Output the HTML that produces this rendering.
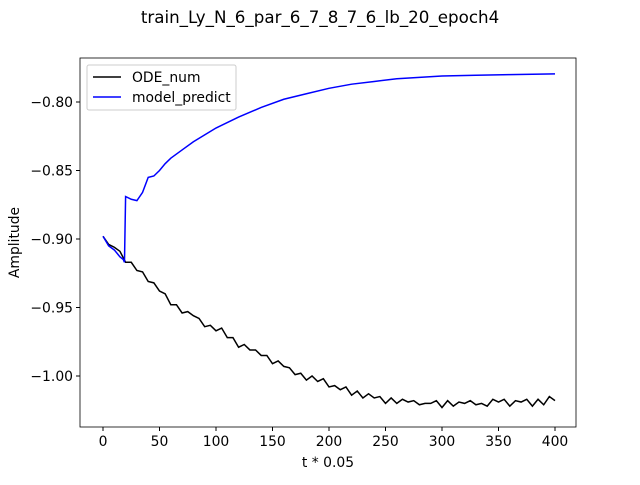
<!DOCTYPE html>
<html><head><meta charset="utf-8"><style>
body{margin:0;background:#fff;}
svg text{font-family:"DejaVu Sans","Liberation Sans",sans-serif;}
</style></head><body>
<svg id="chart" width="640" height="480" viewBox="0 0 640 480">
<rect width="640" height="480" fill="#fff"/>
<text x="320" y="23" font-size="16.7" text-anchor="middle">train_Ly_N_6_par_6_7_8_7_6_lb_20_epoch4</text>
<g id="plot"></g>
</svg>
<script>
const odeT = [];
for (let i = 0; i <= 80; i++) odeT.push(i * 5);
const odeVals = [-0.898,-0.904,-0.906,-0.909,-0.915,-0.919,-0.922,-0.926,-0.929,-0.933,-0.937,-0.942,-0.946,-0.949,-0.952,-0.955,-0.956,-0.960,-0.962,-0.964,-0.965,-0.967,-0.971,-0.974,-0.977,-0.978,-0.980,-0.983,-0.983,-0.986,-0.989,-0.991,-0.993,-0.996,-0.997,-0.999,-1.001,-1.002,-1.003,-1.004,-1.006,-1.008,-1.009,-1.010,-1.012,-1.012,-1.014,-1.015,-1.016,-1.017,-1.018,-1.017,-1.018,-1.019,-1.018,-1.020,-1.019,-1.021,-1.019,-1.020,-1.021,-1.019,-1.020,-1.021,-1.020,-1.020,-1.019,-1.021,-1.020,-1.019,-1.018,-1.019,-1.020,-1.019,-1.018,-1.019,-1.020,-1.018,-1.019,-1.017,-1.018];
const odeNoise = [0,0.002,-0.002,0.001,-0.002,0.002,-0.001,0.002,-0.002,0.001,-0.001,0.002,-0.002,0.001,-0.002,0.002];
const predT = [0,5,10,15,18,19,20,25,30,35,40,45,50,55,60,70,80,90,100,120,140,160,180,200,220,240,260,280,300,330,360,400];
const predVals = [-0.898,-0.905,-0.908,-0.913,-0.915,-0.917,-0.869,-0.871,-0.872,-0.866,-0.855,-0.854,-0.850,-0.845,-0.841,-0.835,-0.829,-0.824,-0.819,-0.811,-0.804,-0.798,-0.794,-0.790,-0.787,-0.785,-0.783,-0.782,-0.781,-0.7805,-0.780,-0.7795];
const xTicks = [0,50,100,150,200,250,300,350,400];
const yTicks = [-1.00,-0.95,-0.90,-0.85,-0.80];

const L=80,R=576,T=58,B=427;
const x = v => 103 + v * (555-103)/400;
const y = v => 239 + (v + 0.90) * (239-102)/(-0.10);
const g = document.getElementById('plot');
const NS='http://www.w3.org/2000/svg';
function mk(tag, attrs){const e=document.createElementNS(NS,tag);for(const k in attrs)e.setAttribute(k,attrs[k]);g.appendChild(e);return e;}

xTicks.forEach(t=>{
  const l=mk('line',{x1:x(t),x2:x(t),y1:B,y2:B+4,stroke:'#000'});
  
  
  const tx=mk('text',{x:x(t),y:B+19,'font-size':13.9,'text-anchor':'middle'});
  tx.textContent=t;
  
  
});
yTicks.forEach(t=>{
  const l=mk('line',{x1:L-4,x2:L,y1:y(t),y2:y(t),stroke:'#000'});
  
  
  const tx=mk('text',{x:L-7,y:y(t)+5,'font-size':13.9,'text-anchor':'end'});
  tx.textContent='\u2212'+Math.abs(t).toFixed(2);
  
  
});
const xt=mk('text',{x:(L+R)/2,y:467,'font-size':13.9,'text-anchor':'middle'});
xt.textContent='t * 0.05';


const yt=mk('text',{x:19,y:(T+B)/2,'font-size':13.9,'text-anchor':'middle',transform:`rotate(-90 19 ${(T+B)/2})`});
yt.textContent='Amplitude';



const ode=mk('polyline',{points:odeT.map((t,i)=>x(t)+','+y(odeVals[i]+(i>3?odeNoise[i%odeNoise.length]:0))).join(' '),fill:'none',stroke:'#000','stroke-width':1.5});


const pr=mk('polyline',{points:predT.map((t,i)=>x(t)+','+y(predVals[i])).join(' '),fill:'none',stroke:'#0000ff','stroke-width':1.5});



const fr=mk('rect',{x:L,y:T,width:R-L,height:B-T,fill:'none',stroke:'#000','stroke-width':0.8});



const lg=mk('rect',{x:87,y:65,width:149,height:45,fill:'#fff',stroke:'#ccc',rx:2});


[['ODE_num','#000',77],['model_predict','#0000ff',97]].forEach(([n,c,yy])=>{
  const l=mk('line',{x1:93,x2:121,y1:yy,y2:yy,stroke:c,'stroke-width':1.5});
  
  
  const t=mk('text',{x:132,y:yy+5,'font-size':13.9});
  t.textContent=n;
  
  
});
</script>
</body></html>
